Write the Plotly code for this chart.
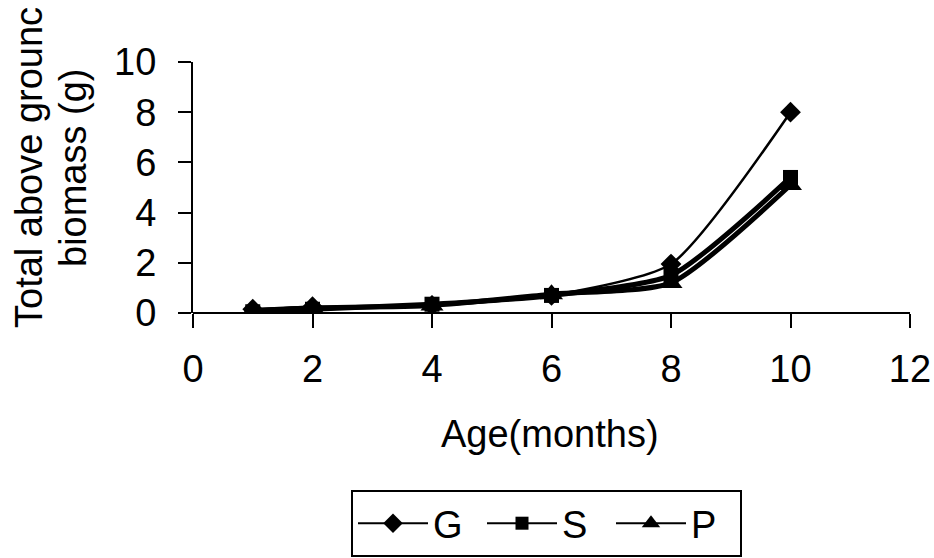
import plotly.graph_objects as go

ages = [1, 2, 4, 6, 8, 10]
G = [0.15, 0.25, 0.3, 0.7, 1.95, 8.0]
S = [0.05, 0.15, 0.35, 0.7, 1.5, 5.4]
P = [0.1, 0.2, 0.3, 0.75, 1.2, 5.1]
series_names = ["G", "S", "P"]
x_ticks = [0, 2, 4, 6, 8, 10, 12]
y_ticks = [0, 2, 4, 6, 8, 10]

FONT = "Liberation Sans, Arial, sans-serif"
FS = 38
W, H = 934, 558

symbols = ["diamond", "square", "triangle-up"]
widths = [2.5, 5, 5]
msizes = [16, 15, 20]
legend_msizes = [15, 13, 16]

fig = go.Figure()
for name, vals, sym, lw, ms in zip(series_names, [G, S, P], symbols, widths, msizes):
    fig.add_trace(go.Scatter(x=ages, y=vals, name=name, mode="lines+markers", showlegend=False,
                             line=dict(color="black", width=lw, shape="spline", smoothing=0.6),
                             marker=dict(symbol=sym, size=ms, color="black")))
# legend entries (thin lines as in the reference legend)
for name, sym, ms in zip(series_names, symbols, legend_msizes):
    fig.add_trace(go.Scatter(x=[None], y=[None], name=name, mode="lines+markers",
                             line=dict(color="black", width=2),
                             marker=dict(symbol=sym, size=ms, color="black")))

fig.update_layout(
    width=W, height=H,
    paper_bgcolor="white", plot_bgcolor="white",
    margin=dict(l=193, r=24, t=62, b=245),
    font=dict(family=FONT, size=FS, color="black"),
    showlegend=True,
    legend=dict(orientation="h", xref="container", yref="container",
                x=351 / W, xanchor="left", y=1 - 490 / H, yanchor="top",
                bordercolor="black", borderwidth=2, font=dict(size=FS),
                entrywidth=44, itemwidth=70, tracegroupgap=0, itemsizing="trace"),
    xaxis=dict(range=[0, 12], tickvals=x_ticks, showgrid=False, zeroline=False,
               showline=False, ticks="outside", ticklen=14, tickwidth=2, tickcolor="black",
               tickfont=dict(size=FS), automargin=False, ticklabelstandoff=8),
    yaxis=dict(range=[0, 10], tickvals=y_ticks, showgrid=False, zeroline=True,
               zerolinecolor="black", zerolinewidth=2,
               showline=True, linecolor="black", linewidth=2,
               ticks="outside", ticklen=13, tickwidth=2, tickcolor="black",
               tickfont=dict(size=FS), automargin=False, ticklabelstandoff=14),
)

fig.add_annotation(text="Total above grounc", xref="paper", yref="paper",
                   x=(29 - 193) / 717, y=(313 - 168) / 251, xanchor="center", yanchor="middle",
                   textangle=-90, showarrow=False, font=dict(size=FS, family=FONT))
fig.add_annotation(text="biomass (g)", xref="paper", yref="paper",
                   x=(73 - 193) / 717, y=(313 - 168) / 251, xanchor="center", yanchor="middle",
                   textangle=-90, showarrow=False, font=dict(size=FS, family=FONT))
fig.add_annotation(text="Age(months)", xref="paper", yref="paper",
                   x=(550 - 193) / 717, y=(313 - 434) / 251, xanchor="center", yanchor="middle",
                   showarrow=False, font=dict(size=FS, family=FONT))

fig.write_html("out.html", config={"displayModeBar": False},
               post_script="document.body.style.margin='0';document.body.style.overflow='hidden';")
